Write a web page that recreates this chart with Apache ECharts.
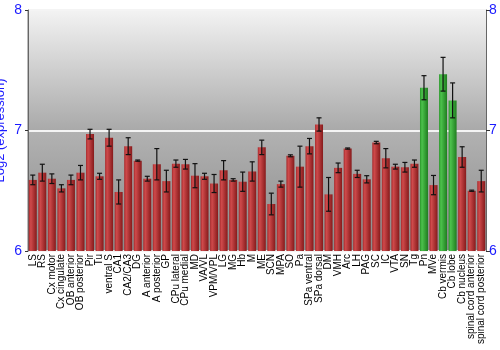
<!DOCTYPE html>
<html><head><meta charset="utf-8">
<script src="https://cdn.jsdelivr.net/npm/echarts@6/dist/echarts.min.js"></script>
<style>html,body{margin:0;padding:0;background:#fff}#c{width:500px;height:350px}</style>
</head><body><div id="c"></div>
<script>
var categories = ["LS","RS","Cx motor","Cx cingulate","OB anterior","OB posterior","Pir","Tu","ventral S","CA1","CA2/CA3","DG","A anterior","A posterior","GP","CPu lateral","CPu medial","MD","VA/VL","VPM/VPL","LG","MG","Hb","M","ME","SCN","MPA","SO","Pa","SPa ventral","SPa dorsal","DM","VMH","Arc","LH","PAG","SC","IC","VTA","SN","Tg","Pn","MVe","Cb vermis","Cb lobe","Cb nucleus","spinal cord anterior","spinal cord posterior"];
var values = [6.59,6.65,6.60,6.52,6.59,6.65,6.97,6.62,6.94,6.49,6.87,6.75,6.60,6.72,6.58,6.725,6.72,6.625,6.62,6.56,6.67,6.59,6.575,6.66,6.86,6.39,6.555,6.79,6.70,6.87,7.05,6.47,6.69,6.85,6.64,6.595,6.90,6.77,6.70,6.695,6.725,7.355,6.547,7.467,7.25,6.78,6.50,6.58];
var errors = [0.04,0.07,0.04,0.03,0.04,0.06,0.04,0.025,0.07,0.10,0.07,0.005,0.02,0.13,0.09,0.03,0.04,0.10,0.025,0.075,0.08,0.01,0.08,0.08,0.06,0.09,0.025,0.008,0.17,0.064,0.055,0.14,0.04,0.005,0.03,0.03,0.01,0.08,0.02,0.04,0.03,0.10,0.08,0.14,0.145,0.085,0.005,0.09];
var highlighted = ["Pn","Cb vermis","Cb lobe"];
var yTicks = [6,7,8];

function grad(c0,c1,c2){return new echarts.graphic.LinearGradient(0,0,1,0,[{offset:0,color:c0},{offset:0.25,color:c1},{offset:1,color:c2}]);}
var redG = grad('#a82a2c','#cf4a4b','#861a1b');
var greenG = grad('#2a962a','#4cc24c','#1f7d1f');

var barData = values.map(function(v,i){
  return {value:v, itemStyle:{color: highlighted.indexOf(categories[i])>=0 ? greenG : redG}};
});
var errData = values.map(function(v,i){return [i, v-errors[i], v+errors[i]];});

var chart = echarts.init(document.getElementById('c'));
var blue = '#1a1aff';
chart.setOption({
  animation:false,
  grid:{left:28,right:14,top:10,bottom:99,outerBoundsMode:'none',containLabel:false,show:true,borderColor:'#777',borderWidth:1,backgroundColor:'transparent'},
  xAxis:{type:'category',data:categories,
    axisLine:{show:false},axisTick:{show:false},
    axisLabel:{interval:0,rotate:90,fontSize:10,color:'#000',fontFamily:'Liberation Sans, Arial',margin:3}},
  yAxis:[{type:'value',min:6,max:8,interval:1,position:'left',
    name:'Log2 (expression)',nameLocation:'middle',nameGap:21,nameMoveOverlap:false,
    nameTextStyle:{color:blue,fontSize:13,fontFamily:'Liberation Sans, Arial'},
    axisLine:{show:true,lineStyle:{color:'#666'}},
    axisTick:{show:true,length:3,lineStyle:{color:'#333'}},
    axisLabel:{color:blue,fontSize:14,fontFamily:'Liberation Sans, Arial',margin:6},
    splitLine:{show:true,lineStyle:{color:'#f4f4f4',width:2}},
    splitArea:{show:true,areaStyle:{color:[
      new echarts.graphic.LinearGradient(0,0,0,1,[{offset:0,color:'#b2b2b2'},{offset:1,color:'#8a8a8a'}]),
      new echarts.graphic.LinearGradient(0,0,0,1,[{offset:0,color:'#f3f3f3'},{offset:1,color:'#a9a9a9'}])
    ]}}},
   {type:'value',min:6,max:8,interval:1,position:'right',
    axisLine:{show:true,lineStyle:{color:'#666'}},
    axisTick:{show:true,length:4,lineStyle:{color:'#333'}},
    axisLabel:{color:blue,fontSize:14,fontFamily:'Liberation Sans, Arial',margin:3},
    splitLine:{show:false}}],
  series:[
    {type:'bar',data:barData,barWidth:8,yAxisIndex:0},
    {type:'custom',yAxisIndex:0,data:errData,z:10,
     renderItem:function(params,api){
       var x=api.value(0), lo=api.coord([x,api.value(1)]), hi=api.coord([x,api.value(2)]);
       var hw=2.5, st={stroke:'#111',lineWidth:1.2};
       return {type:'group',children:[
         {type:'line',shape:{x1:lo[0],y1:lo[1],x2:hi[0],y2:hi[1]},style:st},
         {type:'line',shape:{x1:lo[0]-hw,y1:lo[1],x2:lo[0]+hw,y2:lo[1]},style:st},
         {type:'line',shape:{x1:hi[0]-hw,y1:hi[1],x2:hi[0]+hw,y2:hi[1]},style:st}
       ]};
     }}
  ]
});
</script></body></html>
